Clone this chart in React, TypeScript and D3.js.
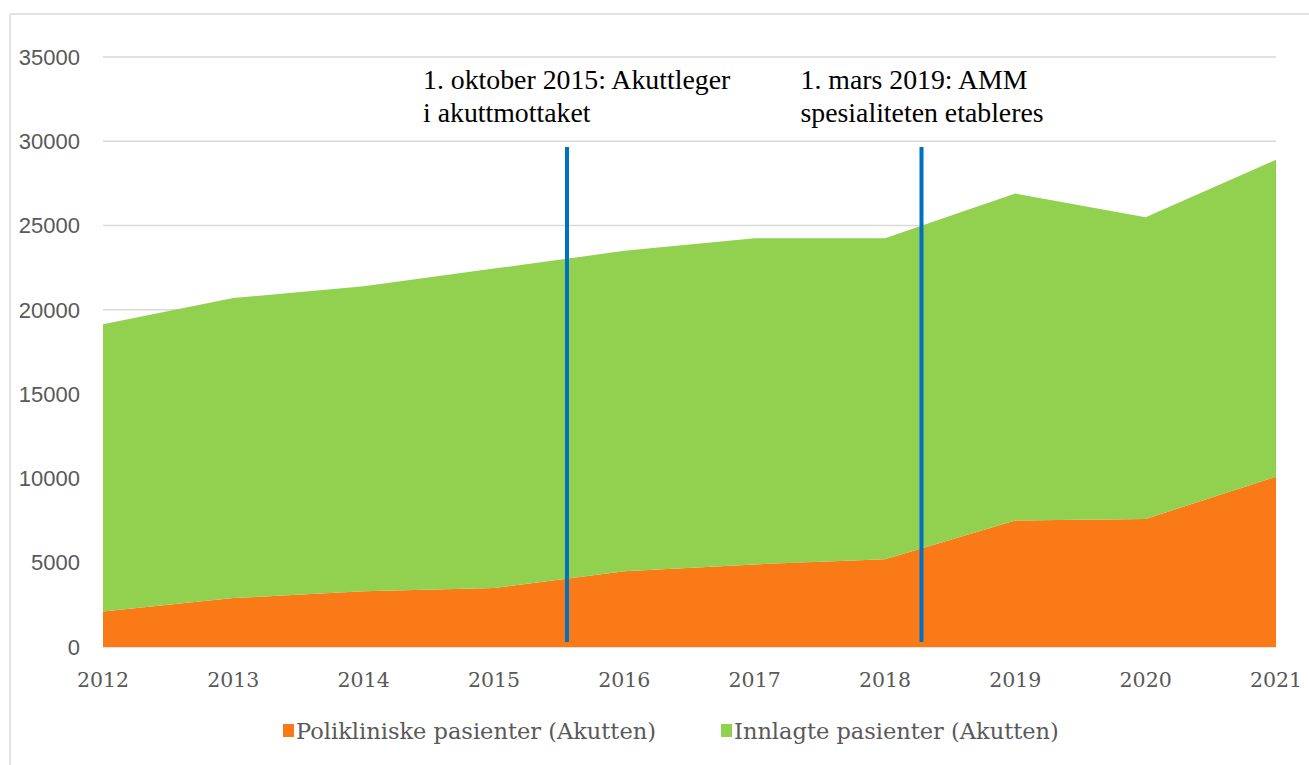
import React, { useEffect, useRef } from "react";
import * as d3 from "d3";

const years = [2012, 2013, 2014, 2015, 2016, 2017, 2018, 2019, 2020, 2021];
const poliklinisk = [2100, 2900, 3300, 3500, 4500, 4900, 5200, 7500, 7600, 10100];
const innlagt = [17050, 17800, 18100, 18950, 19000, 19350, 19050, 19400, 17900, 18800];
const yTicks = [0, 5000, 10000, 15000, 20000, 25000, 30000, 35000];
const seriesNames = ["Polikliniske pasienter (Akutten)", "Innlagte pasienter (Akutten)"];
const markerYears = [2015.56, 2018.28];
const markerLabels = [
  ["1. oktober 2015: Akuttleger", "i akuttmottaket"],
  ["1. mars 2019: AMM", "spesialiteten etableres"],
];

const App: React.FC = () => {
  const svgRef = useRef<SVGSVGElement>(null);

  useEffect(() => {
    const width = 1309;
    const height = 765;
    const svg = d3.select(svgRef.current).attr("width", width).attr("height", height);
    svg.selectAll("*").remove();

    const left = 103;
    const right = 1276;
    const top = 57;
    const bottom = 647;

    const x = d3.scaleLinear().domain([2012, 2021]).range([left, right]);
    const y = d3.scaleLinear().domain([0, 35000]).range([bottom, top]);

    const colors = ["#FA7A18", "#92D050"];
    const grey = "#D9D9D9";
    const textGrey = "#595959";

    // ramme (beskåret fra Excel)
    svg.append("line").attr("x1", 10).attr("x2", width).attr("y1", 14).attr("y2", 14)
      .attr("stroke", grey).attr("stroke-width", 1.5);
    svg.append("line").attr("x1", 10).attr("x2", 10).attr("y1", 14).attr("y2", height)
      .attr("stroke", grey).attr("stroke-width", 1.5);

    // rutenett
    svg.append("g").selectAll("line").data(yTicks).join("line")
      .attr("x1", left).attr("x2", right)
      .attr("y1", (d) => y(d)).attr("y2", (d) => y(d))
      .attr("stroke", grey).attr("stroke-width", 1.5);

    const table = years.map((yr, i) => ({ year: yr, p: poliklinisk[i], n: innlagt[i] }));
    const stack = d3.stack<{ year: number; p: number; n: number }>().keys(["p", "n"]);
    const series = stack(table);

    const area = d3.area<d3.SeriesPoint<{ year: number; p: number; n: number }>>()
      .x((d) => x(d.data.year))
      .y0((d) => y(d[0]))
      .y1((d) => y(d[1]));

    svg.append("g").selectAll("path").data(series).join("path")
      .attr("d", (d) => area(d) as string)
      .attr("fill", (_, i) => colors[i]);

    // y-akse tekst
    svg.append("g").selectAll("text").data(yTicks).join("text")
      .attr("x", 80).attr("y", (d) => y(d))
      .attr("dy", "0.35em")
      .attr("text-anchor", "end")
      .attr("font-family", "Liberation Sans, Arial, sans-serif")
      .attr("font-size", 22)
      .attr("fill", textGrey)
      .text((d) => d);

    // x-akse tekst
    svg.append("g").selectAll("text").data(years).join("text")
      .attr("x", (d) => x(d)).attr("y", 687)
      .attr("text-anchor", "middle")
      .attr("font-family", "DejaVu Serif, serif")
      .attr("font-size", 20.5)
      .attr("fill", textGrey)
      .text((d) => d);

    // markeringslinjer
    svg.append("g").selectAll("line").data(markerYears).join("line")
      .attr("x1", (d) => x(d)).attr("x2", (d) => x(d))
      .attr("y1", 147).attr("y2", 642)
      .attr("stroke", "#0070C0").attr("stroke-width", 4);

    const labelOffsets = [-144, -121];
    markerLabels.forEach((lines, i) => {
      const t = svg.append("text")
        .attr("font-family", "Liberation Serif, Times New Roman, serif")
        .attr("font-size", 27.8)
        .attr("fill", "#000");
      lines.forEach((line, j) => {
        t.append("tspan")
          .attr("x", x(markerYears[i]) + labelOffsets[i])
          .attr("y", 89 + j * 33)
          .text(line);
      });
    });

    // forklaring
    const legendX = [283, 721];
    seriesNames.forEach((name, i) => {
      svg.append("rect")
        .attr("x", legendX[i]).attr("y", 724)
        .attr("width", 11).attr("height", 13)
        .attr("fill", colors[i]);
      svg.append("text")
        .attr("x", legendX[i] + 13).attr("y", 739)
        .attr("font-family", "DejaVu Serif, serif")
        .attr("font-size", 22.5)
        .attr("fill", textGrey)
        .text(name);
    });
  });

  return (
    <svg ref={svgRef} style={{ position: "absolute", left: 0, top: 0 }}></svg>
  );
};

export default App;
